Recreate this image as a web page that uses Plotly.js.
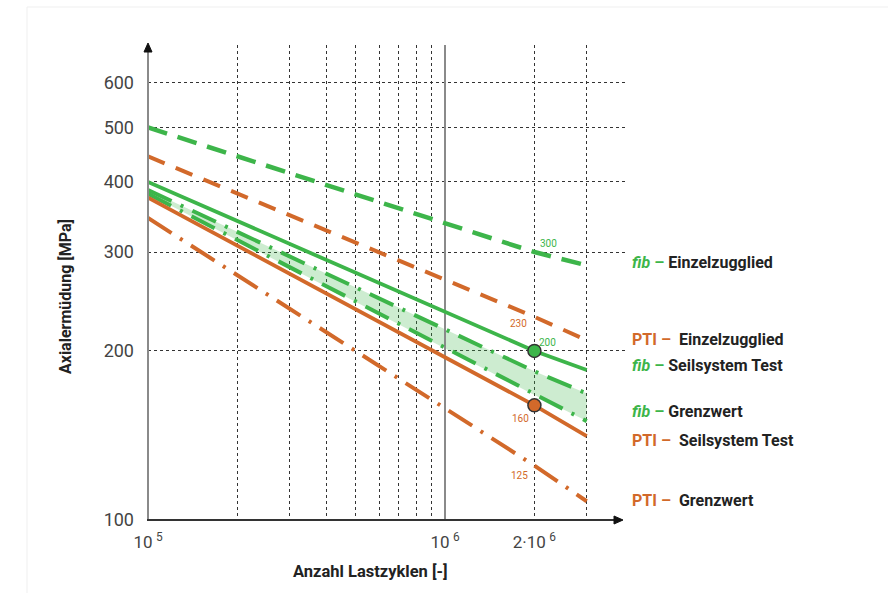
<!DOCTYPE html>
<html><head><meta charset="utf-8">
<script src="https://cdn.plot.ly/plotly-3.0.1.min.js"></script>
<style>html,body{margin:0;padding:0;background:#fff}#chart{width:888px;height:593px}</style>
</head><body><div id="chart"></div>
<script>
// ---- data ----
const cycles        = [1e5, 2e6, 3e6];
const fibEinzel     = [500, 300, 284];
const fibSeil       = [400, 200, 185];
const fibGrenzOben  = [387, 184, 168];
const fibGrenzUnten = [381, 167, 150];
const ptiEinzel     = [444, 230, 209];
const ptiSeil       = [375, 160, 141];
const ptiGrenz      = [345, 125, 108];
const xTickVals = [1e5, 1e6, 2e6];
const xTickText = ['10\u2009<sup>5</sup>', '10\u2009<sup>6</sup>', '2·10\u2009<sup>6</sup>'];
const xGridVals = [2e5,3e5,4e5,5e5,6e5,7e5,8e5,9e5,3e6];
const yTickVals = [100,200,300,400,500,600];
const yTickText = ['100','200','300','400','500','600'];
const refLine1e6 = [1e6, 1e6];
const refLineY = [100, 720];

const GREEN = '#3db54a', ORANGE = '#d2692a';
const FONT = 'Roboto, "Liberation Sans", Arial, sans-serif';

// pixel helpers for layout (plot area 148..625 x 45..520)
const L = 148, R = 625, T = 45, B = 520;
const px = x => (x - L) / (R - L);
const py = y => (B - y) / (B - T);

const traces = [
  // band fill
  {x: cycles, y: fibGrenzUnten, mode: 'lines', line: {width: 0}, hoverinfo: 'skip', showlegend: false},
  {x: cycles, y: fibGrenzOben, mode: 'lines', line: {width: 0}, fill: 'tonexty', fillcolor: 'rgba(61,181,74,0.26)', hoverinfo: 'skip', showlegend: false},
  // 10^6 reference line
  {x: refLine1e6, y: refLineY, mode: 'lines', line: {color: '#8a8a8a', width: 2}, hoverinfo: 'skip', showlegend: false},
  // lines
  {x: cycles, y: fibEinzel, mode: 'lines', line: {color: GREEN, width: 4.5, dash: '20px,11px'}, name: 'fib Einzelzugglied'},
  {x: cycles, y: ptiEinzel, mode: 'lines', line: {color: ORANGE, width: 4, dash: '18px,12px'}, name: 'PTI Einzelzugglied'},
  {x: cycles, y: fibSeil, mode: 'lines', line: {color: GREEN, width: 3.8}, name: 'fib Seilsystem Test'},
  {x: cycles, y: fibGrenzOben, mode: 'lines', line: {color: GREEN, width: 4, dash: '26px,10px,3px,10px'}, name: 'fib Grenzwert oben'},
  {x: cycles, y: fibGrenzUnten, mode: 'lines', line: {color: GREEN, width: 4, dash: '26px,10px,3px,10px'}, name: 'fib Grenzwert unten'},
  {x: cycles, y: ptiSeil, mode: 'lines', line: {color: ORANGE, width: 3.8}, name: 'PTI Seilsystem Test'},
  {x: cycles, y: ptiGrenz, mode: 'lines', line: {color: ORANGE, width: 4, dash: '28px,10px,3px,10px'}, name: 'PTI Grenzwert'},
  // markers at 2e6
  {x: [cycles[1]], y: [fibSeil[1]], mode: 'markers', marker: {size: 13, color: GREEN, line: {color: '#333', width: 1.5}}, showlegend: false},
  {x: [cycles[1]], y: [ptiSeil[1]], mode: 'markers', marker: {size: 13, color: ORANGE, line: {color: '#333', width: 1.5}}, showlegend: false}
];

const lx = Math.log10;
function valLabel(v, color, xs, ys) {
  return {x: lx(cycles[1]), y: lx(v), xref: 'x', yref: 'y', text: String(v), showarrow: false,
          xshift: xs, yshift: ys, font: {family: FONT, size: 10, color: color}};
}
function legLabel(prefix, color, italic, rest, y) {
  const pre = italic ? '<i>' + prefix + '</i> –' : prefix + ' –&nbsp;';
  return {xref: 'paper', yref: 'paper', x: px(630), y: py(y), xanchor: 'left', yanchor: 'middle',
          showarrow: false, align: 'left',
          text: '<span style="color:' + color + '">' + pre + '</span> ' + rest,
          font: {family: FONT, size: 16, color: '#222', weight: 'bold'}};
}

const annotations = [
  valLabel(fibEinzel[1], GREEN, 14, 9),
  valLabel(ptiEinzel[1], ORANGE, -16, -7),
  valLabel(fibSeil[1], GREEN, 13, 8),
  valLabel(ptiSeil[1], ORANGE, -14, -13),
  valLabel(ptiGrenz[1], ORANGE, -15, -10),
  legLabel('fib', GREEN, true, 'Einzelzugglied', 262),
  legLabel('PTI', ORANGE, false, 'Einzelzugglied', 340),
  legLabel('fib', GREEN, true, 'Seilsystem Test', 365.5),
  legLabel('fib', GREEN, true, 'Grenzwert', 411),
  legLabel('PTI', ORANGE, false, 'Seilsystem Test', 440.5),
  legLabel('PTI', ORANGE, false, 'Grenzwert', 500),
  {xref: 'paper', yref: 'paper', x: px(370), y: py(571), xanchor: 'center', yanchor: 'middle', showarrow: false,
   text: 'Anzahl Lastzyklen [-]', font: {family: FONT, size: 16.5, color: '#222', weight: 'bold'}},
  {xref: 'paper', yref: 'paper', x: px(65), y: py(297), xanchor: 'center', yanchor: 'middle', showarrow: false,
   textangle: -90, text: 'Axialermüdung [MPa]', font: {family: FONT, size: 16, color: '#222', weight: 'bold'}}
];

const shapes = [
  // faint frame
  {type: 'rect', xref: 'paper', yref: 'paper', x0: px(27), x1: px(900), y0: py(600), y1: py(7),
   line: {color: '#efefef', width: 1}, layer: 'below'},
  // y axis line + arrow
  {type: 'line', xref: 'paper', yref: 'paper', x0: px(148), x1: px(148), y0: py(520), y1: py(51),
   line: {color: '#8a8a8a', width: 2}, layer: 'above'},
  {type: 'path', xref: 'paper', yref: 'paper',
   path: 'M' + px(144) + ',' + py(52) + ' L' + px(148) + ',' + py(43) + ' L' + px(152) + ',' + py(52) + ' Z',
   fillcolor: '#111', line: {color: '#111', width: 1}, layer: 'above'},
  // x axis line + arrow
  {type: 'line', xref: 'paper', yref: 'paper', x0: px(147), x1: px(615), y0: py(520), y1: py(520),
   line: {color: '#333', width: 2}, layer: 'above'},
  {type: 'path', xref: 'paper', yref: 'paper',
   path: 'M' + px(614) + ',' + py(516) + ' L' + px(623) + ',' + py(520) + ' L' + px(614) + ',' + py(524) + ' Z',
   fillcolor: '#111', line: {color: '#111', width: 1}, layer: 'above'}
];

const layout = {
  width: 888, height: 593,
  margin: {l: L, r: 888 - R, t: T, b: 593 - B, pad: 0},
  paper_bgcolor: '#fff', plot_bgcolor: '#fff',
  showlegend: false,
  font: {family: FONT, color: '#444'},
  xaxis: {type: 'log', range: [5, 5 + (R - L) / 297], tickmode: 'array', tickvals: xTickVals, ticktext: xTickText,
          tickangle: 0,
          showgrid: true, gridcolor: '#333', gridwidth: 1, griddash: '3px,3px', zeroline: false, showline: false,
          minor: {tickmode: 'array', tickvals: xGridVals, ticks: '', showgrid: true, gridcolor: '#333', gridwidth: 1, griddash: '3px,3px'},
          ticks: '', ticklabelstandoff: 10, tickfont: {family: FONT, size: 17, color: '#444'}, fixedrange: true},
  yaxis: {type: 'log', range: [2, 2 + (B - T) / 561.6], tickmode: 'array', tickvals: yTickVals, ticktext: yTickText,
          tickangle: 0,
          showgrid: true, gridcolor: '#333', gridwidth: 1, griddash: '3px,3px', zeroline: false, showline: false,
          ticks: '', ticklabelstandoff: 13, tickfont: {family: FONT, size: 18, color: '#444'}, fixedrange: true},
  annotations: annotations,
  shapes: shapes
};

Plotly.newPlot('chart', traces, layout, {displayModeBar: false, staticPlot: true});
</script>
</body></html>
